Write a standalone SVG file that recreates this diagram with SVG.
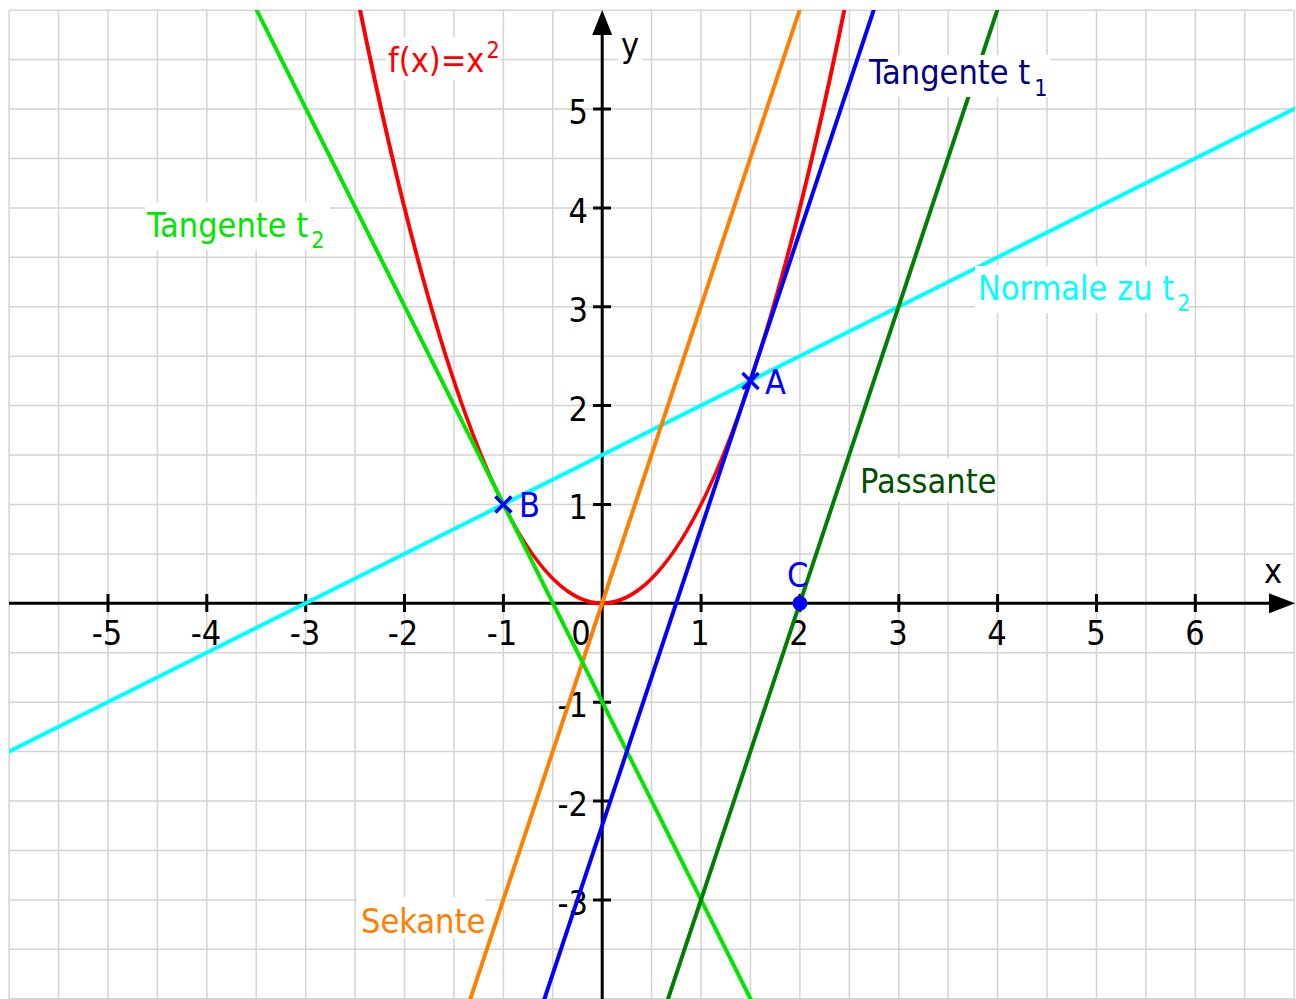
<svg xmlns="http://www.w3.org/2000/svg" width="1296" height="999" viewBox="0 0 1296 999">
<style>
text{font-family:"DejaVu Sans Condensed","DejaVu Sans",sans-serif;font-size:34px}
.tick{fill:#000}
.sub{font-size:23px}
.grid{stroke:#d4d4d4;stroke-width:1.5;fill:none}
.axis{stroke:#000;stroke-width:3;fill:none}
.curve{fill:none;stroke-width:4}
.bg{fill:#fff}
.mark{stroke:#0000ff;stroke-width:3.5;fill:none}
</style>
<defs>
<clipPath id="plot"><rect x="9" y="10" width="1286" height="989"/></clipPath>
</defs>
<rect width="1296" height="999" fill="#fff"/>
<g id="grid">
<path class="grid" d="M9.1 10.2V999M58.5 10.2V999M108 10.2V999M157.4 10.2V999M206.8 10.2V999M256.2 10.2V999M305.7 10.2V999M355.1 10.2V999M404.5 10.2V999M453.9 10.2V999M503.4 10.2V999M552.8 10.2V999M602.2 10.2V999M651.6 10.2V999M701.1 10.2V999M750.5 10.2V999M799.9 10.2V999M849.3 10.2V999M898.8 10.2V999M948.2 10.2V999M997.6 10.2V999M1047 10.2V999M1096.5 10.2V999M1145.9 10.2V999M1195.3 10.2V999M1244.7 10.2V999M1294.2 10.2V999"/>
<path class="grid" d="M9.1 10.2H1294.2M9.1 59.6H1294.2M9.1 109.1H1294.2M9.1 158.5H1294.2M9.1 207.9H1294.2M9.1 257.3H1294.2M9.1 306.8H1294.2M9.1 356.2H1294.2M9.1 405.6H1294.2M9.1 455H1294.2M9.1 504.5H1294.2M9.1 553.9H1294.2M9.1 603.3H1294.2M9.1 652.7H1294.2M9.1 702.2H1294.2M9.1 751.6H1294.2M9.1 801H1294.2M9.1 850.4H1294.2M9.1 899.9H1294.2M9.1 949.3H1294.2M9.1 998.7H1294.2"/>
</g>
<g id="axes">
<path class="axis" d="M9 603.3H1272M602.2 999V33"/>
<polygon points="1295,603.3 1269,593.3 1269,613.3" fill="#000"/>
<polygon points="602.2,10 592.2,35 612.2,35" fill="#000"/>
<path class="axis" d="M108 594V612M206.8 594V612M305.7 594V612M404.5 594V612M503.4 594V612M701.1 594V612M799.9 594V612M898.8 594V612M997.6 594V612M1096.5 594V612M1195.3 594V612"/>
<path class="axis" d="M593 109.1H611M593 207.9H611M593 306.8H611M593 405.6H611M593 504.5H611M593 702.2H611M593 801H611M593 899.9H611"/>
<g class="tick" text-anchor="middle">
<text x="107" y="645">-5</text>
<text x="206" y="645">-4</text>
<text x="305" y="645">-3</text>
<text x="403" y="645">-2</text>
<text x="502" y="645">-1</text>
<text x="581" y="645">0</text>
<text x="700" y="645">1</text>
<text x="799" y="645">2</text>
<text x="898" y="645">3</text>
<text x="997" y="645">4</text>
<text x="1096" y="645">5</text>
<text x="1195" y="645">6</text>
</g>
<g class="tick" text-anchor="end">
<text x="588" y="124">5</text>
<text x="588" y="223">4</text>
<text x="588" y="322">3</text>
<text x="588" y="421">2</text>
<text x="588" y="519">1</text>
<text x="588" y="717">-1</text>
<text x="588" y="816">-2</text>
<text x="588" y="915">-3</text>
</g>
</g>
<g id="curves" clip-path="url(#plot)">
<path id="parabola" class="curve" stroke="#ff0000" d="M355.1 -14.5Q602.2 1221.1 849.3 -14.5"/>
<line id="normale" class="curve" stroke="#00ffff" x1="-0.8" y1="756.5" x2="1304" y2="104.1"/>
<line id="sekante" class="curve" stroke="#ff8000" x1="467.1" y1="1008.6" x2="803.2" y2="-0.7"/>
<line id="tangente2" class="curve" stroke="#00e600" x1="251.3" y1="-0.7" x2="755.4" y2="1008.6"/>
<line id="tangente1" class="curve" stroke="#0000ff" x1="541.2" y1="1008.6" x2="877.3" y2="-0.7"/>
<line id="passante" class="curve" stroke="#008000" x1="664.8" y1="1008.6" x2="1000.9" y2="-0.7"/>
</g>
<g id="labels">
<g id="label-f">
<rect class="bg" x="386" y="37" width="114" height="43"/>
<text x="388" y="72" fill="#ff0000">f(x)=x<tspan class="sub" dx="2" dy="-14">2</tspan></text>
</g>
<g id="label-y">
<rect class="bg" x="618" y="35" width="24" height="32"/>
<text x="621" y="57" fill="#000">y</text>
</g>
<g id="label-x">
<rect class="bg" x="1262" y="560" width="24" height="27"/>
<text x="1264" y="583" fill="#000">x</text>
</g>
<g id="label-t1">
<rect class="bg" x="866" y="55" width="184" height="42"/>
<text x="869" y="84" fill="#000080">Tangente t<tspan class="sub" dx="4" dy="12">1</tspan></text>
</g>
<g id="label-t2">
<rect class="bg" x="145" y="202" width="185" height="48"/>
<text x="147" y="237" fill="#00e600">Tangente t<tspan class="sub" dx="3" dy="11">2</tspan></text>
</g>
<g id="label-normale">
<rect class="bg" x="975" y="266" width="213" height="47"/>
<text x="978" y="300" fill="#00ffff">Normale zu t<tspan class="sub" dx="3" dy="11">2</tspan></text>
</g>
<g id="label-passante">
<rect class="bg" x="857" y="458" width="140" height="44"/>
<text x="860" y="493" fill="#005000">Passante</text>
</g>
<g id="label-sekante">
<rect class="bg" x="357" y="897" width="128" height="41"/>
<text x="361" y="933" fill="#ff8000">Sekante</text>
</g>
</g>
<g id="point-A">
<path class="mark" d="M742.5 372.9L758.5 388.9M742.5 388.9L758.5 372.9"/>
<text x="765" y="394" fill="#0000ff">A</text>
</g>
<g id="point-B">
<path class="mark" d="M495.4 496.5L511.4 512.5M495.4 512.5L511.4 496.5"/>
<text x="519" y="517" fill="#0000ff">B</text>
</g>
<g id="point-C">
<circle cx="799.9" cy="603.3" r="7.5" fill="#0000ff"/>
<text x="787" y="587" fill="#0000ff">C</text>
</g>
</svg>
